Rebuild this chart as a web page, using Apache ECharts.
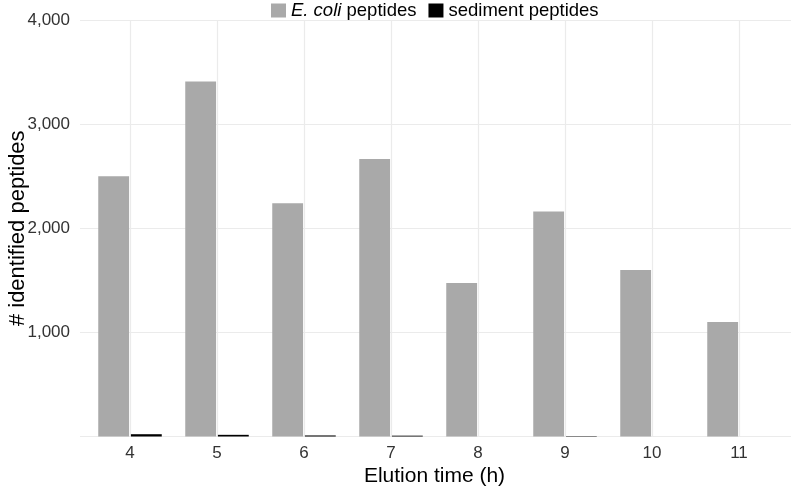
<!DOCTYPE html>
<html>
<head>
<meta charset="utf-8">
<script src="https://cdn.jsdelivr.net/npm/echarts@6/dist/echarts.min.js"></script>
<style>html,body{margin:0;padding:0;background:#fff}#c{width:792px;height:488px}</style>
</head>
<body>
<div id="c"></div>
<script>
const categories = ['4','5','6','7','8','9','10','11'];
const ecoliPeptides = [2500, 3410, 2240, 2665, 1475, 2160, 1600, 1100];
const sedimentPeptides = [22, 16, 10, 8, 0, 4, 0, 0];
const seriesNames = ['E. coli peptides', 'sediment peptides'];
const yTicks = [0, 1000, 2000, 3000, 4000];

const chart = echarts.init(document.getElementById('c'), null, {renderer: 'canvas'});
const font = 'Liberation Sans, Arial, sans-serif';
const gTop = 20, gBottom = 51.5;
chart.setOption({
  backgroundColor: '#fff',
  animation: false,
  textStyle: {fontFamily: font},
  legend: {
    top: 1, left: 271, padding: 0,
    data: seriesNames,
    itemWidth: 15, itemHeight: 14, itemGap: 12,
    icon: 'rect',
    textStyle: {fontSize: 18.5, color: '#000', fontFamily: font,
      rich: {i: {fontStyle: 'italic', fontSize: 18.5, color: '#000', fontFamily: font}}},
    formatter: n => n === 'E. coli peptides' ? '{i|E. coli} peptides' : n
  },
  grid: [
    {left: 80, right: 1, top: gTop, bottom: gBottom, containLabel: false, outerBoundsMode: 'none'},
    {left: 86.5, right: 9.5, top: gTop, bottom: gBottom, containLabel: false, outerBoundsMode: 'none'},
    {left: 130, right: 53, top: gTop, bottom: gBottom, containLabel: false, outerBoundsMode: 'none'}
  ],
  xAxis: [
    {gridIndex: 0, type: 'value', show: false, min: 0, max: 1},
    {gridIndex: 1, type: 'category', data: categories,
     axisLine: {show: false}, axisTick: {show: false}, splitLine: {show: false},
     axisLabel: {fontSize: 17, color: '#333', margin: 8, fontFamily: font},
     name: 'Elution time (h)', nameLocation: 'middle', nameGap: 29, nameMoveOverlap: false,
     nameTextStyle: {fontSize: 21, color: '#000', fontFamily: font}},
    {gridIndex: 2, type: 'category', data: categories, boundaryGap: false,
     axisLine: {show: false}, axisTick: {show: false}, axisLabel: {show: false},
     splitLine: {show: true, lineStyle: {color: '#ebebeb', width: 1.2}}}
  ],
  yAxis: [
    {gridIndex: 0, type: 'value', min: yTicks[0], max: yTicks[yTicks.length-1], interval: 1000,
     axisLine: {show: false}, axisTick: {show: false},
     splitLine: {show: true, lineStyle: {color: '#ebebeb', width: 1.2}},
     axisLabel: {fontSize: 17, color: '#333', margin: 10, fontFamily: font, showMinLabel: false,
       formatter: v => v === 0 ? '' : v.toLocaleString('en-US')},
     name: '# identified peptides', nameLocation: 'middle', nameGap: 51, nameRotate: 90,
     nameMoveOverlap: false,
     nameTextStyle: {fontSize: 22, color: '#000', fontFamily: font}},
    {gridIndex: 1, type: 'value', min: 0, max: 4000, show: false, splitLine: {show: false}},
    {gridIndex: 2, type: 'value', min: 0, max: 4000, show: false, splitLine: {show: false}}
  ],
  series: [
    {name: seriesNames[0], type: 'bar', xAxisIndex: 1, yAxisIndex: 1, data: ecoliPeptides,
     itemStyle: {color: '#a9a9a9'}, barGap: '6%', barCategoryGap: '27%'},
    {name: seriesNames[1], type: 'bar', xAxisIndex: 1, yAxisIndex: 1, data: sedimentPeptides,
     itemStyle: {color: '#000000'}, barGap: '6%', barCategoryGap: '27%'}
  ]
});
</script>
</body>
</html>
